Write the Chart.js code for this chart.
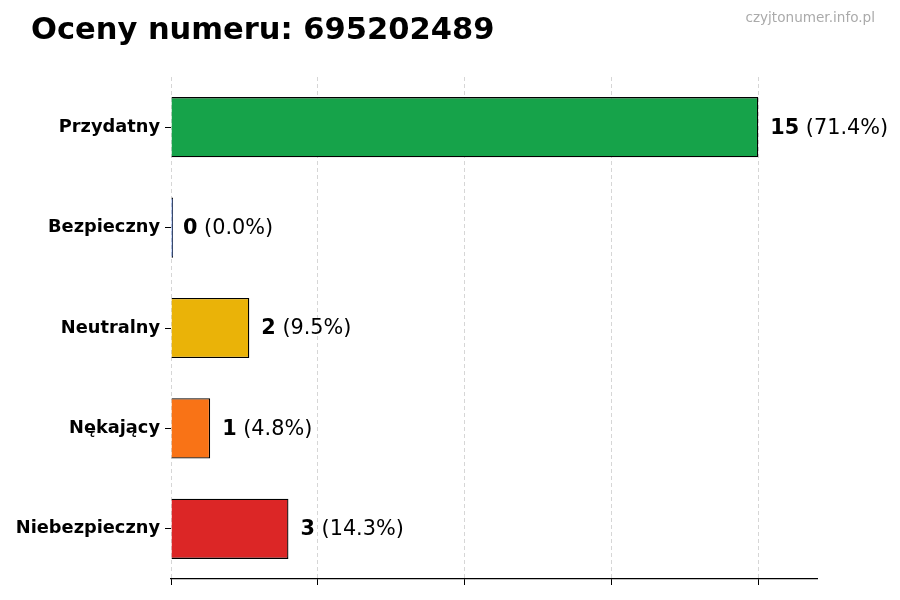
<!doctype html>
<html lang="pl">
<head>
    <meta charset="utf-8">
    <title>Oceny numeru: 695202489</title>
    <style>
        html, body { margin: 0; padding: 0; background: #fff; }
        #chart { display: block; }
    </style>
</head>
<body>
<canvas id="chart" width="900" height="600"></canvas>

<script src="https://cdn.jsdelivr.net/npm/chart.js@4.4.1/dist/chart.umd.min.js"></script>
<script>
    const categories = ['Przydatny', 'Bezpieczny', 'Neutralny', 'Nękający', 'Niebezpieczny'];
    const counts = [15, 0, 2, 1, 3];
    const barColors = ['#16a34a', '#2563eb', '#eab308', '#f97316', '#dc2626'];
    const xTicks = [0, 3.75, 7.5, 11.25, 15];
    const xMax = 16.5;

    const titleText = 'Oceny numeru: 695202489';
    const watermark = 'czyjtonumer.info.pl';
    const font = "'DejaVu Sans', sans-serif";

    const total = counts.reduce((a, b) => a + b, 0);

    // title, watermark and the "n (p%)" labels next to each bar
    const textPlugin = {
        id: 'texts',
        afterDraw(chart) {
            const ctx = chart.ctx;
            ctx.save();
            ctx.fillStyle = '#000';
            ctx.font = 'bold 30.5px ' + font;
            ctx.textAlign = 'left';
            ctx.textBaseline = 'middle';
            ctx.fillText(titleText, 31, 31);

            ctx.fillStyle = '#aaaaaa';
            ctx.font = '13.6px ' + font;
            ctx.textAlign = 'right';
            ctx.fillText(watermark, 875, 18);

            const meta = chart.getDatasetMeta(0);
            const xs = chart.scales.x;
            meta.data.forEach((bar, i) => {
                const x = xs.getPixelForValue(counts[i]) + 12;
                const y = bar.y + 1;
                const num = String(counts[i]);
                const pct = ' (' + (total ? counts[i] / total * 100 : 0).toFixed(1) + '%)';
                ctx.textAlign = 'left';
                ctx.fillStyle = '#000';
                ctx.font = 'bold 20.8px ' + font;
                ctx.fillText(num, x, y);
                const w = ctx.measureText(num).width;
                ctx.font = '20.8px ' + font;
                ctx.fillText(pct, x + w, y);
            });
            ctx.restore();
        }
    };

    new Chart(document.getElementById('chart'), {
        type: 'bar',
        data: {
            labels: categories,
            datasets: [{
                data: counts,
                backgroundColor: barColors,
                borderColor: '#000',
                borderWidth: 1.3,
                barPercentage: 0.6,
                categoryPercentage: 1,
                minBarLength: 2
            }]
        },
        options: {
            indexAxis: 'y',
            responsive: false,
            animation: false,
            devicePixelRatio: 1,
            layout: {padding: {top: 77, right: 83, left: 0, bottom: 0}},
            plugins: {
                legend: {display: false},
                tooltip: {enabled: false}
            },
            scales: {
                x: {
                    min: 0,
                    max: xMax,
                    afterBuildTicks: (scale) => {
                        scale.ticks = xTicks.map(v => ({value: v}));
                    },
                    afterFit: (scale) => { scale.height = 21; },
                    ticks: {display: false},
                    grid: {
                        color: 'rgba(0,0,0,0.16)',
                        lineWidth: 1,
                        tickColor: '#000',
                        tickLength: 6,
                        tickWidth: 1
                    },
                    border: {display: true, color: '#000', width: 1.2, dash: [4, 3]}
                },
                y: {
                    afterFit: (scale) => { scale.width = 171; },
                    ticks: {
                        color: '#000',
                        padding: 5,
                        font: {family: font, size: 17.8, weight: 'bold'}
                    },
                    grid: {
                        offset: false,
                        drawOnChartArea: false,
                        tickColor: '#000',
                        tickLength: 6,
                        tickWidth: 1
                    },
                    border: {display: false}
                }
            }
        },
        plugins: [textPlugin]
    });
</script>
</body>
</html>
